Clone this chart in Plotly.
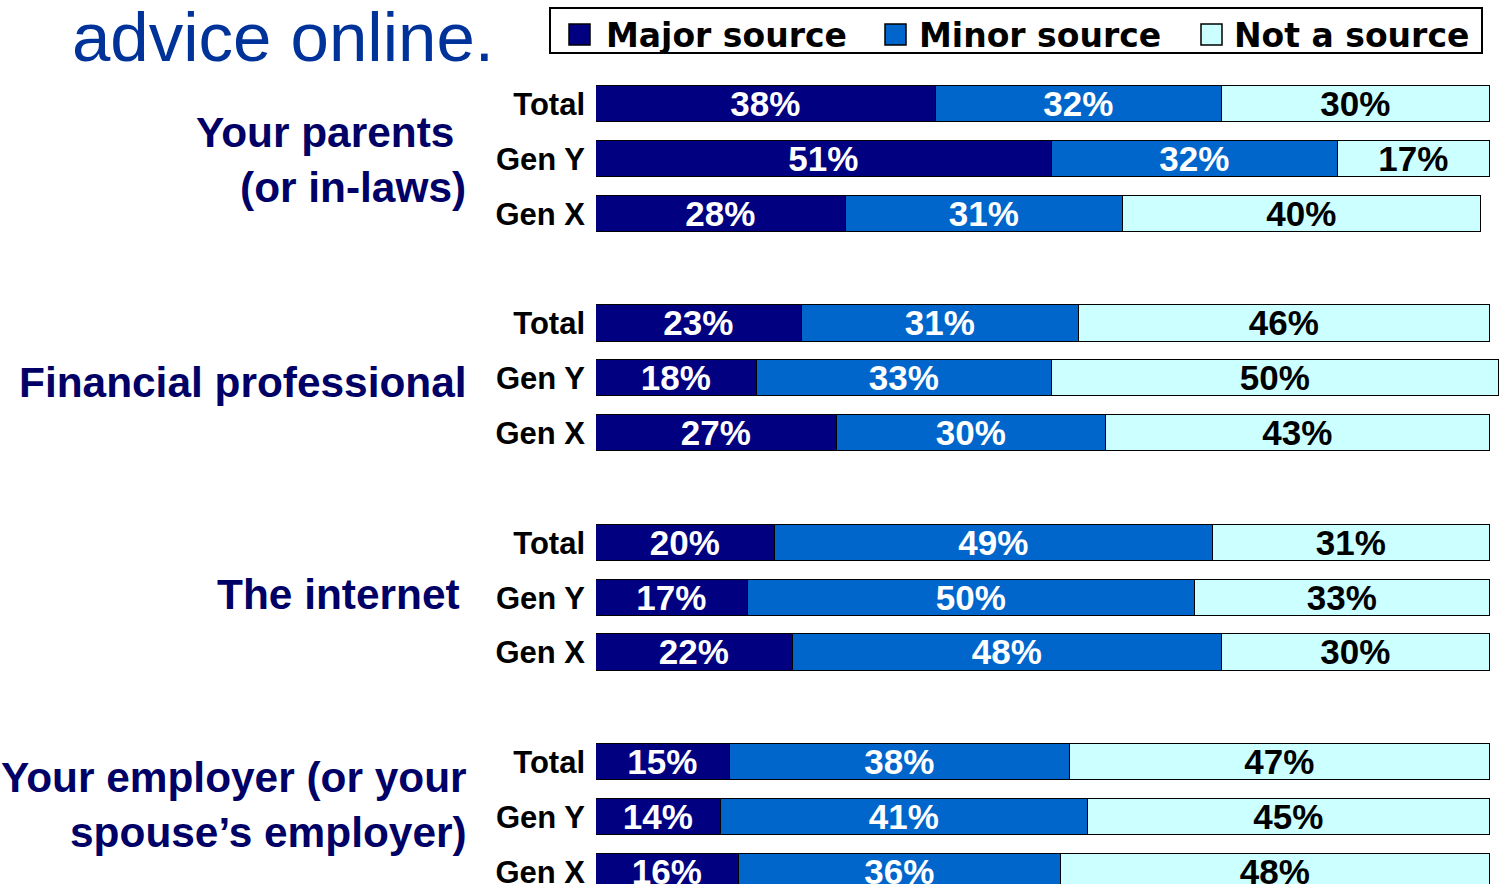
import plotly.graph_objects as go

# Survey answers: where each generation gets financial advice
sources = [
    ["Your parents", "(or in-laws)"],
    ["Financial professional"],
    ["The internet"],
    ["Your employer (or your", "spouse\u2019s employer)"],
]
generations = ["Total", "Gen Y", "Gen X"]
series_names = ["Major source", "Minor source", "Not a source"]

major = [38, 51, 28, 23, 18, 27, 20, 17, 22, 15, 14, 16]
minor = [32, 32, 31, 31, 33, 30, 49, 50, 48, 38, 41, 36]
not_source = [30, 17, 40, 46, 50, 43, 31, 33, 30, 47, 45, 48]

colors = ["#000080", "#0066CC", "#CCFFFF"]
label_colors = ["white", "white", "black"]

W, H = 1501, 884
M_L, M_T = 596, 60
PLOT_W, PLOT_H = W - M_L, H - M_T

# Row positions: three bars per source, one empty slot between sources
row_pos = []
for g in range(len(sources)):
    for i in range(len(generations)):
        row_pos.append(g * 4 + i)
row_text = generations * len(sources)

FONT = "Liberation Sans, Arial, Helvetica, sans-serif"

fig = go.Figure()
for name, vals, col, lc in zip(series_names, [major, minor, not_source], colors, label_colors):
    fig.add_trace(go.Bar(
        x=vals, y=row_pos, orientation="h", name=name,
        marker=dict(color=col, line=dict(color="black", width=1.5)),
        width=0.66,
        texttemplate="%{x}%", textposition="inside", insidetextanchor="middle",
        textangle=0, constraintext="none", cliponaxis=False,
        textfont=dict(family=FONT, size=35, color=lc, weight="bold"),
        showlegend=False, hoverinfo="skip",
    ))


def px(p):
    return (p - M_L) / PLOT_W


def py(p):
    return (H - p) / PLOT_H


annotations = []
# Source names to the left of the row labels
label_right = [468, 469, 462, 469]
label_shift = [-1, -4, 3, 12]
for g, lines in enumerate(sources):
    if len(lines) == 2 and g == 0:
        txt = lines[0] + "\u00a0<br>" + lines[1]
    else:
        txt = "<br>".join(lines)
    annotations.append(dict(
        text=txt, xref="paper", yref="y", x=px(label_right[g]), y=g * 4 + 1,
        xanchor="right", yanchor="middle", align="right", showarrow=False,
        yshift=label_shift[g],
        font=dict(family=FONT, size=42.4, color="#000066", weight="bold"),
    ))

# Heading fragment at top-left
annotations.append(dict(
    text="advice online.", xref="paper", yref="paper", x=px(70), y=py(38),
    xanchor="left", yanchor="middle", showarrow=False,
    font=dict(family=FONT, size=69, color="#003399"),
))

# Legend box built from shapes and text
shapes = [dict(type="rect", xref="paper", yref="paper",
               x0=px(550), x1=px(1482), y0=py(53), y1=py(8),
               line=dict(color="black", width=2), fillcolor="white")]
legend_sq = [569, 885, 1201]
legend_tx = [604, 917, 1232]
for name, col, sx, tx in zip(series_names, colors, legend_sq, legend_tx):
    shapes.append(dict(type="rect", xref="paper", yref="paper",
                       x0=px(sx), x1=px(sx + 21), y0=py(45), y1=py(24),
                       line=dict(color="black", width=1.5), fillcolor=col))
    annotations.append(dict(
        text=name, xref="paper", yref="paper", x=px(tx), y=py(35),
        xanchor="left", yanchor="middle", showarrow=False,
        font=dict(family="DejaVu Sans, sans-serif", size=33, color="black", weight="bold"),
    ))

slot = 54.85
fig.update_layout(
    width=W, height=H,
    margin=dict(l=M_L, r=0, t=M_T, b=0, pad=0, autoexpand=False),
    barmode="stack", bargap=0,
    plot_bgcolor="white", paper_bgcolor="white",
    xaxis=dict(range=[0, PLOT_W / 8.94], visible=False, fixedrange=True,
               automargin=False),
    yaxis=dict(
        range=[(H - 104) / slot, (M_T - 104) / slot],
        tickvals=row_pos, ticktext=row_text,
        tickfont=dict(family=FONT, size=31, color="black", weight="bold"),
        showgrid=False, zeroline=False, showline=False, ticks="",
        ticklabelstandoff=10, ticklabeloverflow="allow", fixedrange=True,
        automargin=False,
    ),
    annotations=annotations,
    shapes=shapes,
)

fig.write_html("out.html")
